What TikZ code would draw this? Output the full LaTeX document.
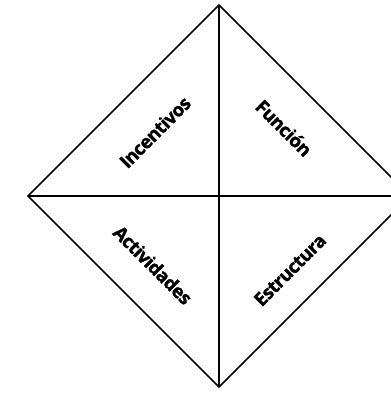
\documentclass[tikz,border=0pt]{standalone}
\usepackage{fontspec}
\newfontfamily\lblfont{Open Sans}[LetterSpace=-3,BoldFeatures={FakeBold=1.3}]
\begin{document}
\begin{tikzpicture}[x=0.75pt,y=-0.75pt,
  edge/.style={line width=1.1pt,line join=miter},
  cross/.style={line width=1.6pt},
  lbl/.style={font=\lblfont\bfseries\fontsize{14}{16}\selectfont,inner sep=0pt}]
\clip (0,0) rectangle (391,393);
\useasboundingbox (0,0) rectangle (391,393);
\coordinate (T) at (219,5);
\coordinate (L) at (28,196);
\coordinate (R) at (410,196);
\coordinate (B) at (219,387);
\draw[edge] (T) -- (R) -- (B) -- (L) -- cycle;
\draw[cross] (T) -- (B);
\draw[cross] (L) -- (R);
\node[lbl,rotate=45] (inc) at (155,132) {Incentivos};
\node[lbl,rotate=-45] (fun) at (284,128) {Función};
\node[lbl,rotate=-45] (act) at (153,265) {Actividades};
\node[lbl,rotate=45] (est) at (290,270) {Estructura};
\end{tikzpicture}
\end{document}
